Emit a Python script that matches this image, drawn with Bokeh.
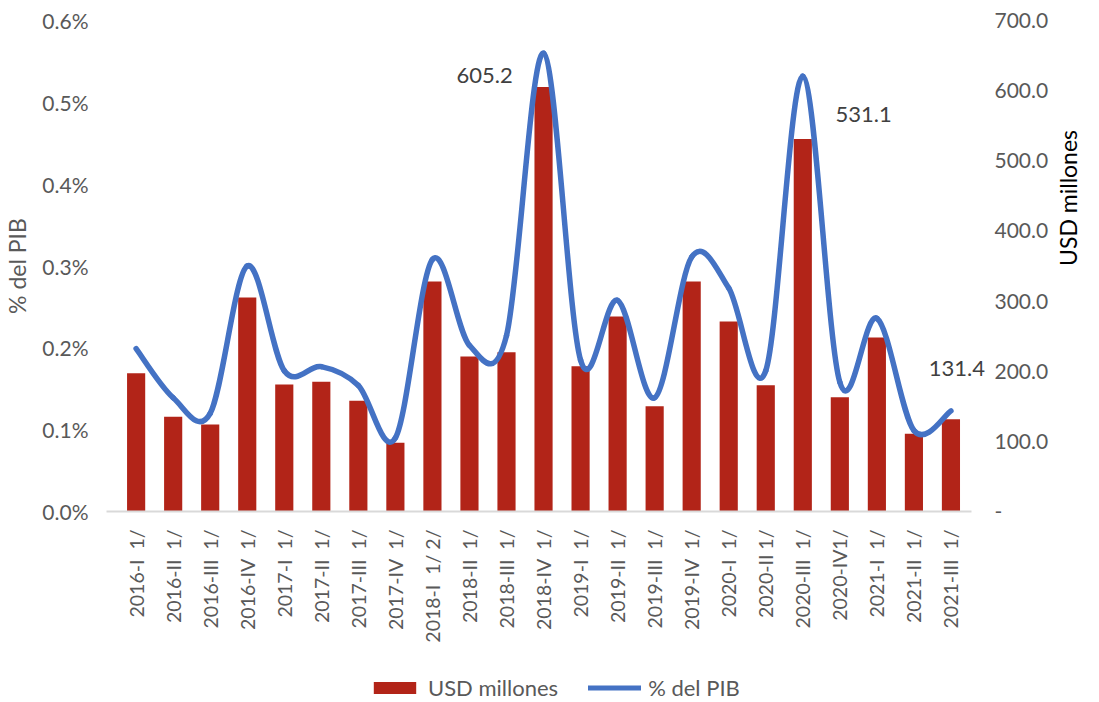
import math
from bokeh.plotting import figure
from bokeh.layouts import column
from bokeh.models import (Range1d, LinearAxis, FixedTicker, CustomJSTickFormatter,
                          Label, Legend, LegendItem, ColumnDataSource)
from bokeh.embed import file_html
from bokeh.resources import INLINE

categories = ["2016-I  1/", "2016-II  1/", "2016-III  1/", "2016-IV  1/",
              "2017-I  1/", "2017-II  1/", "2017-III  1/", "2017-IV  1/",
              "2018-I  1/ 2/", "2018-II  1/", "2018-III  1/", "2018-IV  1/",
              "2019-I  1/", "2019-II  1/", "2019-III  1/", "2019-IV  1/",
              "2020-I  1/", "2020-II 1/", "2020-III  1/", "2020-IV1/",
              "2021-I  1/", "2021-II  1/", "2021-III  1/"]
usd_millones = [197, 135, 124, 305, 181, 185, 158, 98, 328, 221, 227, 605.2,
                207, 278, 150, 328, 271, 180, 531.1, 163, 248, 111, 131.4]
pct_pib = [0.199, 0.139, 0.120, 0.300, 0.172, 0.177, 0.154, 0.090, 0.308, 0.203,
           0.215, 0.560, 0.185, 0.258, 0.139, 0.311, 0.273, 0.172, 0.532, 0.158,
           0.236, 0.099, 0.123]
left_ticks = [0.0, 0.1, 0.2, 0.3, 0.4, 0.5, 0.6]
right_ticks = [0, 100, 200, 300, 400, 500, 600, 700]

FONT = "Lato"
GREY = "#595959"
RED = "#B22418"
BLUE = "#4472C4"
W = 1099

n = len(categories)
xs = list(range(n))

p = figure(width=W, height=645, output_backend="svg", toolbar_location=None,
           x_range=Range1d(-0.8, 22.96), y_range=Range1d(0, 0.6),
           min_border_left=105, min_border_right=W - 990, min_border_top=20,
           min_border_bottom=134)
p.outline_line_color = None
p.xgrid.grid_line_color = None
p.ygrid.grid_line_color = None
p.background_fill_color = "white"
p.border_fill_color = "white"

p.extra_y_ranges = {"usd": Range1d(0, 700)}

p.vbar(x=xs, top=usd_millones, width=0.49, y_range_name="usd",
       fill_color=RED, line_color=None)

# smooth line (Catmull-Rom -> cubic bezier in data space)
pts = list(zip(xs, pct_pib))
x0, y0, x1, y1, cx0, cy0, cx1, cy1 = [], [], [], [], [], [], [], []
for i in range(n - 1):
    p0 = pts[i - 1] if i > 0 else pts[i]
    p1 = pts[i]
    p2_ = pts[i + 1]
    p3 = pts[i + 2] if i + 2 < n else pts[i + 1]
    x0.append(p1[0]); y0.append(p1[1]); x1.append(p2_[0]); y1.append(p2_[1])
    cx0.append(p1[0] + (p2_[0] - p0[0]) / 6); cy0.append(p1[1] + (p2_[1] - p0[1]) / 6)
    cx1.append(p2_[0] - (p3[0] - p1[0]) / 6); cy1.append(p2_[1] - (p3[1] - p1[1]) / 6)
src = ColumnDataSource(dict(x0=x0, y0=y0, x1=x1, y1=y1, cx0=cx0, cy0=cy0, cx1=cx1, cy1=cy1))
p.bezier(x0="x0", y0="y0", x1="x1", y1="y1", cx0="cx0", cy0="cy0", cx1="cx1", cy1="cy1",
         source=src, line_color=BLUE, line_width=5.5, line_cap="round")

# axes
xa = p.xaxis[0]
xa.ticker = FixedTicker(ticks=xs)
xa.bounds = (-0.8, 22.56)
xa.major_label_overrides = {i: c.replace(" ", "\u00a0") for i, c in enumerate(categories)}
xa.major_label_orientation = math.pi / 2
xa.major_tick_line_color = None
xa.minor_tick_line_color = None
xa.axis_line_color = "#D9D9D9"
xa.axis_line_width = 2
xa.major_label_text_font = FONT
xa.major_label_text_font_size = "19.5px"
xa.major_label_text_color = GREY
xa.major_label_standoff = 12

ya = p.yaxis[0]
ya.ticker = FixedTicker(ticks=left_ticks)
ya.formatter = CustomJSTickFormatter(code="return tick.toFixed(1) + '%';")
ya.axis_line_color = None
ya.major_tick_line_color = None
ya.minor_tick_line_color = None
ya.major_label_text_font = FONT
ya.major_label_text_font_size = "21px"
ya.major_label_text_color = GREY
ya.major_label_standoff = 12
ya.axis_label = "% del PIB"
ya.axis_label_text_font = FONT
ya.axis_label_text_font_size = "23px"
ya.axis_label_text_font_style = "normal"
ya.axis_label_text_color = GREY
ya.axis_label_standoff = 8

ra = LinearAxis(y_range_name="usd", ticker=FixedTicker(ticks=right_ticks),
                formatter=CustomJSTickFormatter(code="return tick == 0 ? '-' : tick.toFixed(1);"))
ra.axis_line_color = None
ra.major_tick_line_color = None
ra.minor_tick_line_color = None
ra.major_label_text_font = FONT
ra.major_label_text_font_size = "21px"
ra.major_label_text_color = GREY
ra.major_label_standoff = 2
ra.axis_label = "USD millones"
ra.axis_label_orientation = math.pi / 2
ra.axis_label_text_font = FONT
ra.axis_label_text_font_size = "23px"
ra.axis_label_text_font_style = "normal"
ra.axis_label_text_color = "black"
ra.axis_label_standoff = 17
p.add_layout(ra, "right")

# data labels
for xi, yi, txt in [(11 - 1.59, 621, "605.2"), (18 + 1.64, 566, "531.1"), (22 + 0.16, 204, "131.4")]:
    p.add_layout(Label(x=xi, y=yi, y_range_name="usd", text=txt, text_font=FONT,
                       text_font_size="22px", text_color="#404040",
                       text_align="center", text_baseline="middle"))

# legend strip below the chart
lg = figure(width=W, height=57, output_backend="svg", toolbar_location=None,
            x_range=Range1d(0, 1), y_range=Range1d(0, 1),
            x_axis_location=None, y_axis_location=None, min_border=0)
lg.outline_line_color = None
lg.grid.visible = False
nan = float("nan")
r_bar = lg.vbar(x=[nan], top=[nan], width=0.5, fill_color=RED, line_color=None)
r_line = lg.line(x=[nan, nan], y=[nan, nan], line_color=BLUE, line_width=5, line_cap="round")
legend = Legend(items=[LegendItem(label="USD millones", renderers=[r_bar]),
                       LegendItem(label="% del PIB", renderers=[r_line])],
                orientation="horizontal", location=(262, 1),
                label_text_font=FONT, label_text_font_size="22px",
                label_text_color=GREY, border_line_color=None,
                background_fill_alpha=0, glyph_width=53, glyph_height=15,
                spacing=30, label_standoff=7, padding=2, margin=0)
lg.add_layout(legend, "center")

layout = column(p, lg, spacing=0)
open("out.html", "w").write(file_html(layout, INLINE))
